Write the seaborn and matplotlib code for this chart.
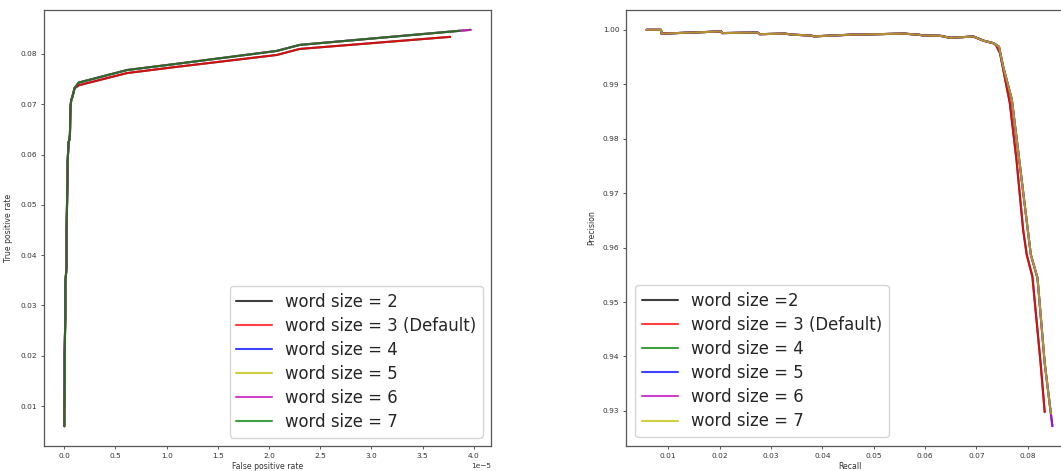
import numpy as np
import pandas as pd
import matplotlib
matplotlib.use("Agg")
import matplotlib.pyplot as plt
import seaborn as sns

# ---------------- data ----------------
# ROC curves (false positive rate in units of 1e-5)
roc_labels = ["word size = 2", "word size = 3 (Default)", "word size = 4",
              "word size = 5", "word size = 6", "word size = 7"]
roc_colors = ["k", "r", "b", "y", "m", "g"]
roc_group = ["low", "low", "high", "high", "high", "high"]

roc_rise_fpr = [0.0, 0.0, 0.003, 0.003, 0.010, 0.010, 0.022, 0.022, 0.032, 0.032,
                0.042, 0.049, 0.055, 0.060, 0.068, 0.075, 0.088, 0.100]
roc_rise_tpr = [0.0060, 0.0085, 0.0146, 0.0205, 0.0278, 0.0345, 0.0377, 0.0450,
                0.0563, 0.0585, 0.0625, 0.0629, 0.0640, 0.0695, 0.0709, 0.0712,
                0.0722, 0.0732]

roc_high_fpr = [0.140, 0.612, 1.083, 2.075, 2.30]
roc_high_tpr = [0.0743, 0.0768, 0.0780, 0.0806, 0.0818]
roc_low_fpr = [0.146, 0.612, 1.083, 2.075, 2.30]
roc_low_tpr = [0.0738, 0.0762, 0.0774, 0.0798, 0.0810]

roc_end_fpr = [3.77, 3.77, 3.97, 3.97, 3.97, 3.86]
roc_end_tpr = [0.0834, 0.0834, 0.0848, 0.0848, 0.0848, 0.0846]

# Precision-recall curves
pr_labels = ["word size =2", "word size = 3 (Default)", "word size = 4",
             "word size = 5", "word size = 6", "word size = 7"]
pr_colors = ["k", "r", "g", "b", "m", "y"]
pr_group = ["low", "low", "high", "high", "high", "high"]

pr_flat_recall = [0.0058, 0.0086, 0.0087, 0.0203, 0.0205, 0.0274, 0.0278, 0.0326,
                  0.0345, 0.0378, 0.0384, 0.0455, 0.0559, 0.0588, 0.0597, 0.0630,
                  0.0649, 0.0694, 0.0714, 0.0733]
pr_flat_precision = [1.0, 1.0, 0.9993, 0.9997, 0.9994, 0.9995, 0.9992, 0.9993,
                     0.99910, 0.99895, 0.99880, 0.99910, 0.99930, 0.99910, 0.99895,
                     0.99890, 0.99853, 0.99877, 0.99800, 0.99755]

pr_high_recall = [0.0744, 0.0752, 0.0769, 0.0785, 0.0800, 0.0806, 0.0819, 0.0833]
pr_high_precision = [0.9969, 0.9933, 0.9872, 0.9749, 0.9633, 0.9587, 0.9544, 0.9388]
pr_low_recall = [0.0738, 0.0746, 0.0765, 0.0778, 0.0791, 0.0798, 0.0809, 0.0825]
pr_low_precision = [0.99725, 0.9957, 0.9866, 0.9762, 0.9633, 0.9587, 0.9547, 0.9388]

pr_end_recall = [0.0833, 0.0833, 0.0845, 0.0848, 0.0848, 0.0845]
pr_end_precision = [0.9298, 0.9298, 0.9295, 0.9272, 0.9272, 0.9295]

# ---------------- style ----------------
sns.set_style("ticks")
plt.rcParams["font.family"] = ["DejaVu Sans"]
edge = "#555555"
plt.rcParams.update({
    "axes.edgecolor": edge,
    "axes.linewidth": 0.9,
    "xtick.color": edge,
    "ytick.color": edge,
    "xtick.labelcolor": "#333333",
    "ytick.labelcolor": "#333333",
    "xtick.major.size": 2.5,
    "ytick.major.size": 2.5,
    "xtick.major.width": 0.7,
    "ytick.major.width": 0.7,
    "xtick.major.pad": 2.5,
    "ytick.major.pad": 2.5,
    "axes.labelcolor": "#333333",
})

W, H = 1061, 471
fig = plt.figure(figsize=(W / 100, H / 100), dpi=100)
ax1 = fig.add_axes([44 / W, 25 / H, 447 / W, 436 / H])
ax2 = fig.add_axes([626.3 / W, 25 / H, 446.4 / W, 436 / H])

lw = 1.5
alpha = 0.75
leg_kw = dict(fontsize=11.9, frameon=True, handlelength=2.15, labelspacing=0.37,
              borderpad=0.4)

# ROC
for i, lab in enumerate(roc_labels):
    if roc_group[i] == "high":
        fx, fy = roc_high_fpr, roc_high_tpr
    else:
        fx, fy = roc_low_fpr, roc_low_tpr
    x = np.array(roc_rise_fpr + fx + [roc_end_fpr[i]]) * 1e-5
    y = np.array(roc_rise_tpr + fy + [roc_end_tpr[i]])
    df = pd.DataFrame({"fpr": x, "tpr": y})
    sns.lineplot(data=df, x="fpr", y="tpr", ax=ax1, sort=False, estimator=None,
                 color=roc_colors[i], label=lab, linewidth=lw, alpha=alpha)

ax1.set_xlabel("False positive rate", fontsize=5.6, labelpad=2)
ax1.set_ylabel("True positive rate", fontsize=5.6, labelpad=5)
ax1.tick_params(labelsize=5.3)
ax1.xaxis.get_offset_text().set_fontsize(5.3)
ax1.xaxis.get_offset_text().set_color("#333333")
ax1.set_xticks(np.arange(0, 4.01, 0.5) * 1e-5)
ax1.set_yticks([0.01, 0.02, 0.03, 0.04, 0.05, 0.06, 0.07, 0.08])
ax1.legend(loc="lower right", borderaxespad=0.5, **leg_kw)

# PR
for i, lab in enumerate(pr_labels):
    if pr_group[i] == "high":
        fx, fy = pr_high_recall, pr_high_precision
    else:
        fx, fy = pr_low_recall, pr_low_precision
    x = np.array(pr_flat_recall + fx + [pr_end_recall[i]])
    y = np.array(pr_flat_precision + fy + [pr_end_precision[i]])
    df = pd.DataFrame({"recall": x, "precision": y})
    sns.lineplot(data=df, x="recall", y="precision", ax=ax2, sort=False, estimator=None,
                 color=pr_colors[i], label=lab, linewidth=lw, alpha=alpha)

ax2.set_xlabel("Recall", fontsize=5.6, labelpad=2)
ax2.set_ylabel("Precision", fontsize=5.6, labelpad=5)
ax2.tick_params(labelsize=5.3)
ax2.set_xticks([0.01, 0.02, 0.03, 0.04, 0.05, 0.06, 0.07, 0.08])
ax2.set_yticks([0.93, 0.94, 0.95, 0.96, 0.97, 0.98, 0.99, 1.00])
ax2.legend(loc="lower left", borderaxespad=0.55, **leg_kw)

for ax in (ax1, ax2):
    for s in ax.spines.values():
        s.set_visible(True)

fig.savefig("out.png", dpi=100)
